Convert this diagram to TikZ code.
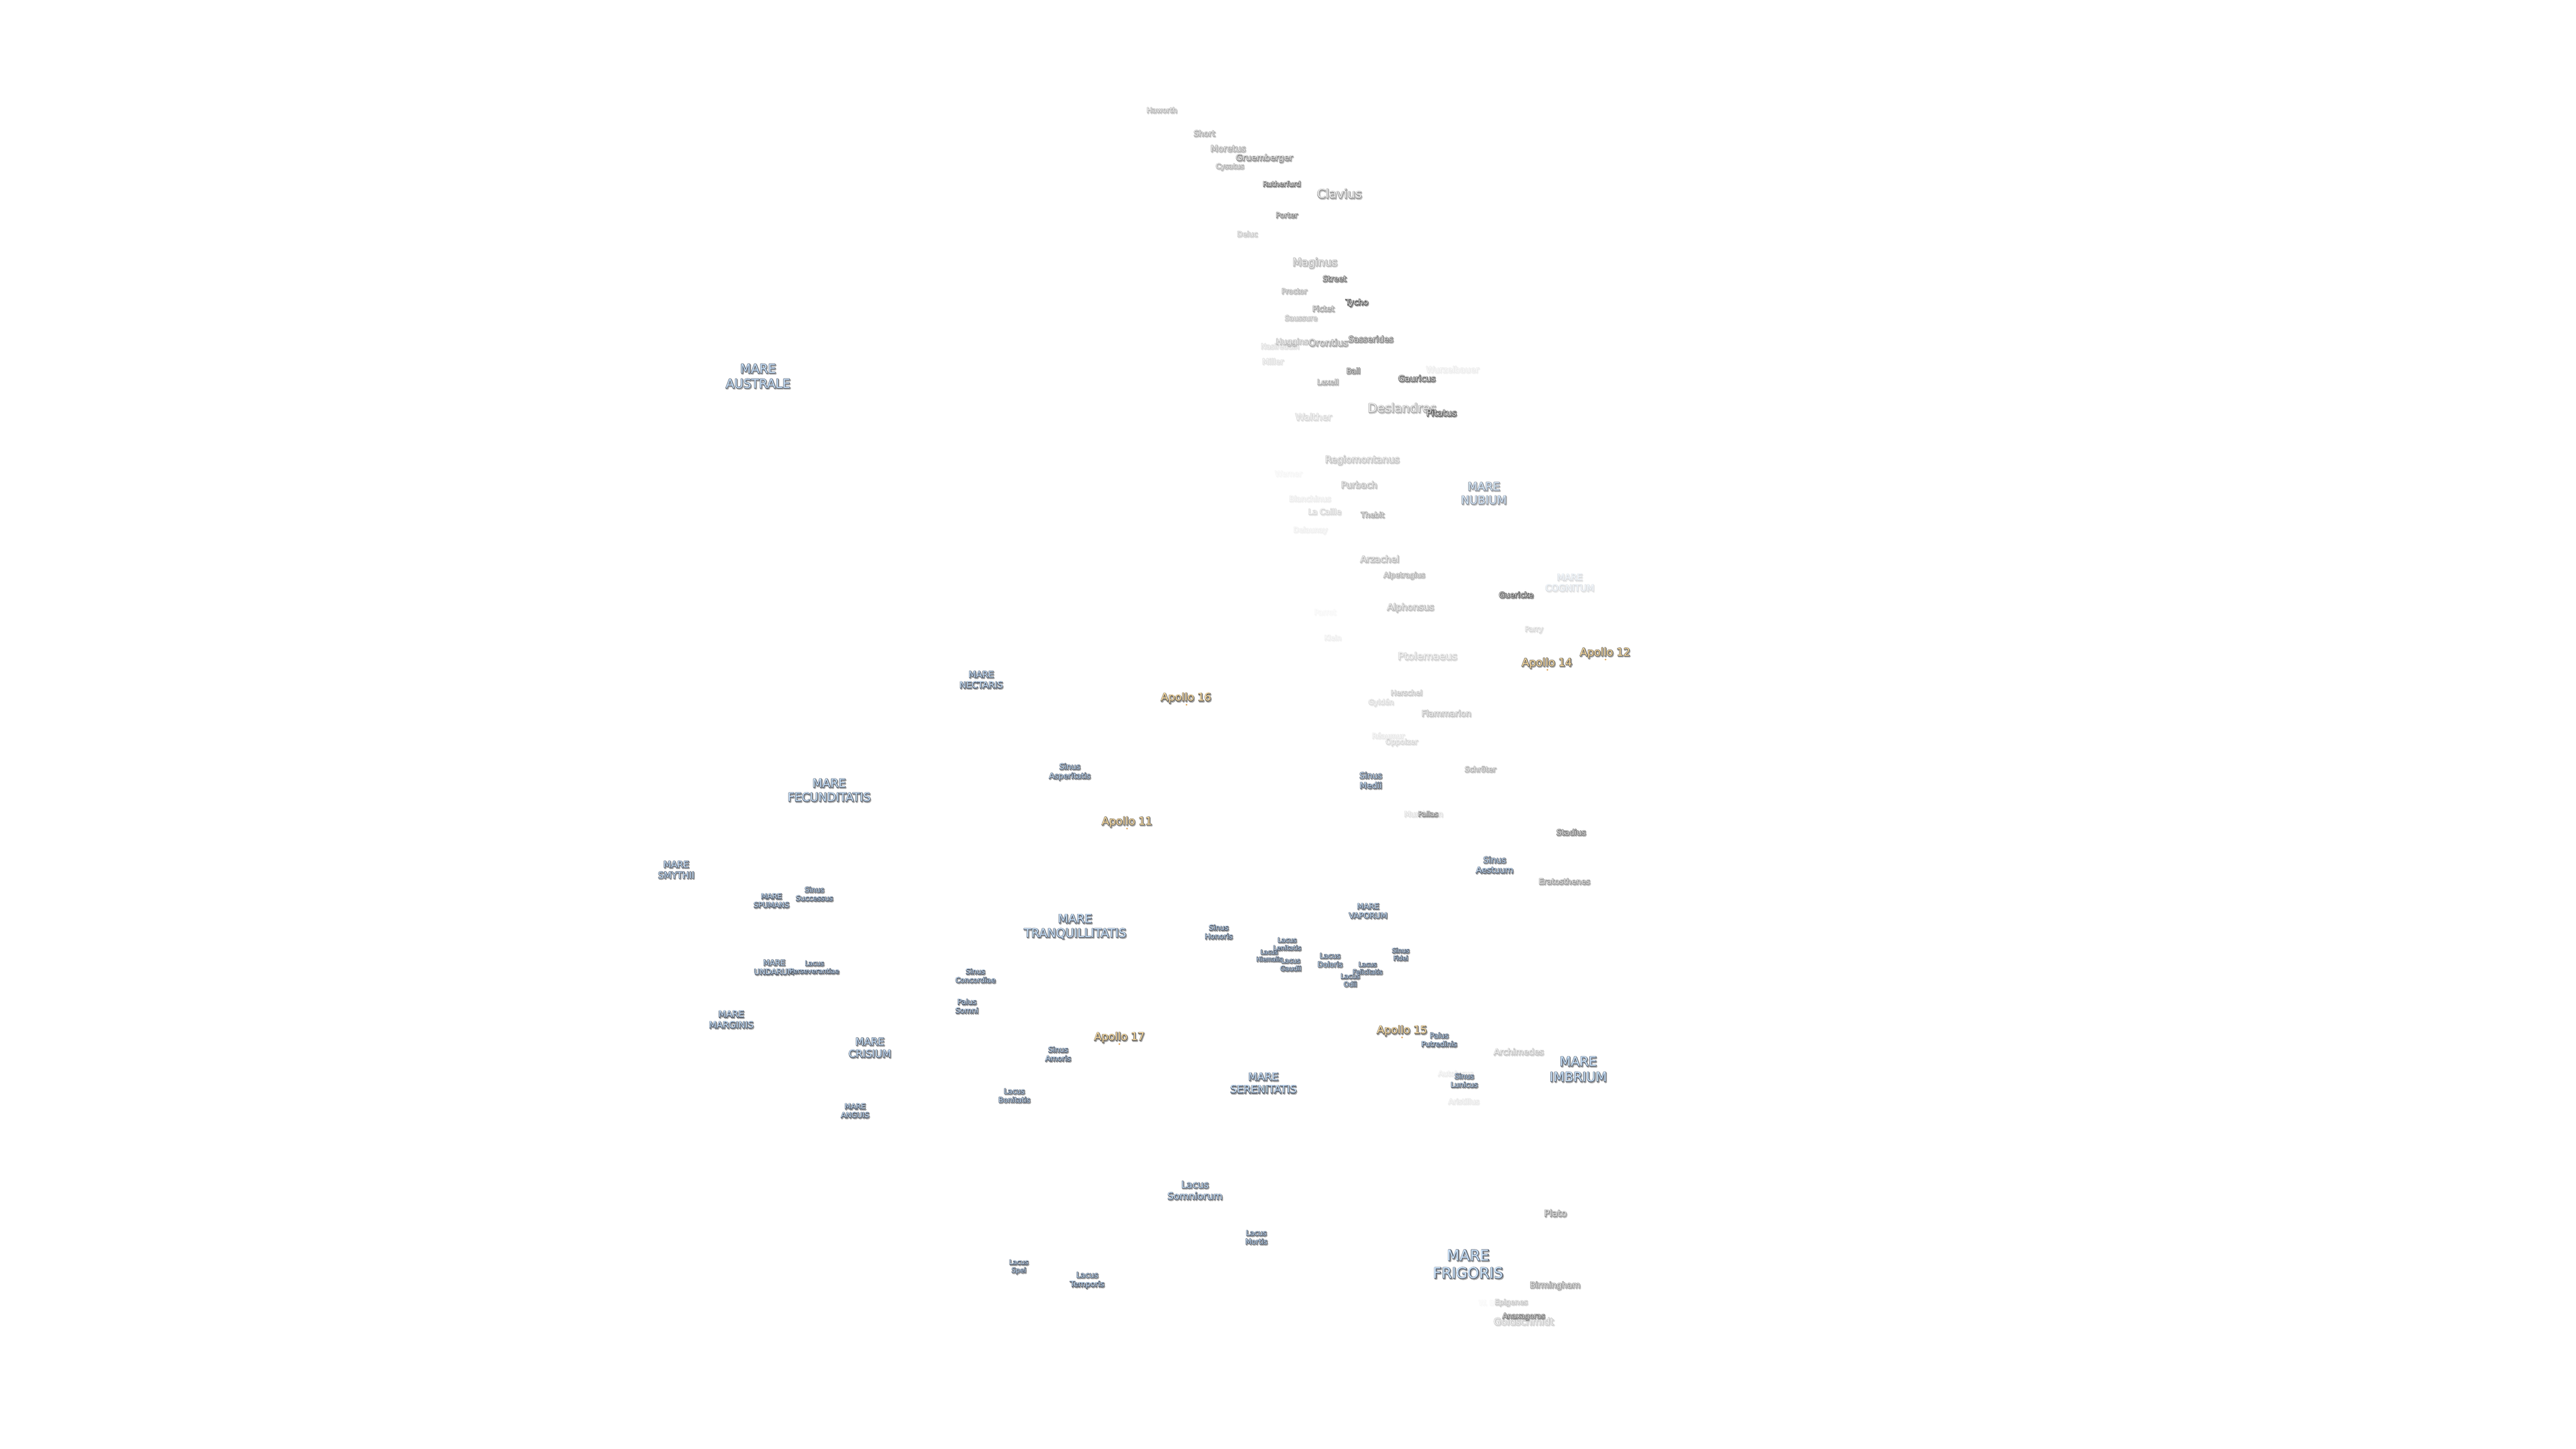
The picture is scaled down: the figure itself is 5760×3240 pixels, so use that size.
\documentclass[tikz,border=0pt]{standalone}
\usepackage{fontspec}
\setmainfont{DejaVu Sans}
\definecolor{fillmare}{HTML}{C8E0F8}
\definecolor{halomare}{HTML}{525C6C}
\definecolor{fillcrater}{HTML}{DCDCDC}
\definecolor{halocrater}{HTML}{555555}
\definecolor{fillapollo}{HTML}{FBDCA2}
\definecolor{haloapollo}{HTML}{625E56}
\definecolor{softshadow}{HTML}{666666}
\definecolor{sitedot}{HTML}{DDA050}
\tikzset{
  lbl/.style={inner sep=0pt,outer sep=0pt,align=center,anchor=center},
  strokelayer/.style={execute at begin node={\special{pdf:literal direct 1 j #1 w 1 Tr}},
                      execute at end node={\special{pdf:literal direct 0 Tr}}},
  landing/.style={circle,inner sep=0pt,minimum size=4pt,fill=sitedot}
}
\newcommand\lab[7]{%
  \pgfmathsetmacro\lbh{#4*1.2}%
  \begin{scope}[transparency group,opacity=#5,every node/.append style={font=\fontsize{#4}{\lbh}\selectfont}]
    \node[lbl,strokelayer=3,text=softshadow,opacity=.6] (#1s) at (#2+1.5,#3+2) {#7};
    \node[lbl,strokelayer=2,text=halo#6] (#1h) at (#2,#3) {#7};
    \node[lbl,text=fill#6] (#1) at (#2,#3) {#7};
  \end{scope}}
\begin{document}
\begin{tikzpicture}[x=1pt,y=-1pt]
\fill[white] (0,0) rectangle (5760,3240);
\useasboundingbox (0,0) rectangle (5760,3240);
% faint craters first
\lab{werner}{2881}{1059}{16.8}{.06}{crater}{Werner}
\lab{parrot}{2963}{1369}{16.4}{.05}{crater}{Parrot}
\lab{klein}{2980}{1426}{15.4}{.1}{crater}{Klein}
\lab{delaunay}{2930}{1186}{16}{.1}{crater}{Delaunay}
\lab{blanchinus}{2929}{1115}{17.1}{.12}{crater}{Blanchinus}
\lab{wurzelbauer}{3248}{826}{18.7}{.12}{crater}{Wurzelbauer}
\lab{nasireddin}{2862}{774}{16}{.2}{crater}{Nasireddin}
\lab{miller}{2846}{808}{17.5}{.2}{crater}{Miller}
\lab{walther}{2937}{932}{21}{.25}{crater}{Walther}
\lab{lacaille}{2962}{1144}{17.4}{.25}{crater}{La Caille}
\lab{cognitum}{3510}{1303}{19.9}{.22}{mare}{MARE\\COGNITUM}
\lab{parry}{3430}{1408}{15.7}{.25}{crater}{Parry}
\lab{reaumur}{3104}{1645}{16}{.15}{crater}{Réaumur}
\lab{oppolzer}{3134}{1660}{16}{.25}{crater}{Oppolzer}
\lab{gylden}{3088}{1571}{16}{.22}{crater}{Gyldén}
\lab{herschel}{3145}{1549}{16}{.35}{crater}{Herschel}
\lab{ptolemaeus}{3192}{1467}{22.6}{.3}{crater}{Ptolemaeus}
\lab{murchison}{3183}{1820}{17}{.2}{crater}{Murchison}
\lab{autolycus}{3255}{2402}{16}{.12}{crater}{Autolycus}
\lab{aristillus}{3273}{2463}{16.1}{.15}{crater}{Aristillus}
\lab{archimedes}{3396}{2352}{18.9}{.38}{crater}{Archimedes}
\lab{goldschmidt}{3407}{2955}{21.4}{.35}{crater}{Goldschmidt}
\lab{wbond}{3339}{2913}{16}{.04}{crater}{W. Bond}
\lab{epigenes}{3379}{2913}{16.1}{.35}{crater}{Epigenes}
% southern craters
\lab{haworth}{2598}{246}{16}{.45}{crater}{Haworth}
\lab{short}{2693}{298}{17.8}{.55}{crater}{Short}
\lab{moretus}{2746}{332}{19.5}{.55}{crater}{Moretus}
\lab{cysatus}{2750}{373}{15.9}{.5}{crater}{Cysatus}
\lab{gruemberger}{2827}{354}{18.9}{.7}{crater}{Gruemberger}
\lab{rutherfurd}{2866}{411}{15.8}{.85}{crater}{Rutherfurd}
\lab{clavius}{2995}{433}{27.8}{.65}{crater}{Clavius}
\lab{porter}{2877}{481}{16.2}{.75}{crater}{Porter}
\lab{deluc}{2789}{523}{16.1}{.35}{crater}{Deluc}
\lab{maginus}{2940}{588}{24}{.5}{crater}{Maginus}
\lab{street}{2984}{623}{17.4}{.9}{crater}{Street}
\lab{proctor}{2894}{651}{16}{.5}{crater}{Proctor}
\lab{tycho}{3034}{677}{17.8}{1}{crater}{Tycho}
\lab{pictet}{2959}{690}{17.4}{.6}{crater}{Pictet}
\lab{saussure}{2909}{711}{15.9}{.4}{crater}{Saussure}
\lab{huggins}{2889}{765}{17.6}{.4}{crater}{Huggins}
\lab{orontius}{2970}{766}{20.8}{.6}{crater}{Orontius}
\lab{sasserides}{3065}{758}{18.7}{.8}{crater}{Sasserides}
\lab{ball}{3026}{829}{16.7}{.8}{crater}{Ball}
\lab{gauricus}{3168}{846}{18.8}{.95}{crater}{Gauricus}
\lab{lexell}{2969}{854}{16.7}{.55}{crater}{Lexell}
\lab{deslandres}{3135}{912}{27.4}{.55}{crater}{Deslandres}
\lab{pitatus}{3223}{923}{19.8}{1}{crater}{Pitatus}
\lab{regiomontanus}{3046}{1029}{21.3}{.4}{crater}{Regiomontanus}
\lab{purbach}{3039}{1084}{19.8}{.45}{crater}{Purbach}
\lab{thebit}{3069}{1151}{16.5}{.55}{crater}{Thebit}
\lab{arzachel}{3085}{1250}{20.1}{.45}{crater}{Arzachel}
\lab{alpetragius}{3140}{1287}{16.2}{.5}{crater}{Alpetragius}
\lab{guericke}{3390}{1330}{17.4}{1}{crater}{Guericke}
\lab{alphonsus}{3154}{1359}{20.3}{.45}{crater}{Alphonsus}
\lab{flammarion}{3234}{1595}{18.6}{.4}{crater}{Flammarion}
\lab{schroter}{3310}{1720}{16.4}{.5}{crater}{Schröter}
\lab{pallas}{3193}{1820}{15.6}{.65}{crater}{Pallas}
\lab{stadius}{3513}{1861}{17.7}{.85}{crater}{Stadius}
\lab{eratosthenes}{3498}{1971}{17.4}{.65}{crater}{Eratosthenes}
\lab{plato}{3478}{2713}{20.2}{.7}{crater}{Plato}
\lab{birmingham}{3477}{2875}{18.5}{.65}{crater}{Birmingham}
\lab{anaxagoras}{3407}{2944}{16}{.85}{crater}{Anaxagoras}
% maria, lakes, bays
\lab{nubium}{3318}{1103}{25.2}{.75}{mare}{MARE\\NUBIUM}
\lab{medii}{3065}{1745}{18.6}{1}{mare}{Sinus\\Medii}
\lab{aestuum}{3342}{1934}{18.8}{1}{mare}{Sinus\\Aestuum}
\lab{vaporum}{3059}{2037}{17.2}{1}{mare}{MARE\\VAPORUM}
\lab{honoris}{2725}{2084}{16.2}{1}{mare}{Sinus\\Honoris}
\lab{lenitatis}{2878}{2111}{14.6}{1}{mare}{Lacus\\Lenitatis}
\lab{hiemalis}{2838}{2137}{13.3}{1}{mare}{Lacus\\Hiemalis}
\lab{gaudii}{2886}{2157}{14.7}{1}{mare}{Lacus\\Gaudii}
\lab{doloris}{2974}{2147}{16}{1}{mare}{Lacus\\Doloris}
\lab{fidei}{3132}{2134}{14.2}{1}{mare}{Sinus\\Fidei}
\lab{felicitatis}{3058}{2165}{14}{1}{mare}{Lacus\\Felicitatis}
\lab{odii}{3019}{2192}{14.9}{1}{mare}{Lacus\\Odii}
\lab{putredinis}{3218}{2325}{16}{1}{mare}{Palus\\Putredinis}
\lab{imbrium}{3529}{2391}{28.9}{1}{mare}{MARE\\IMBRIUM}
\lab{serenitatis}{2825}{2422}{23.5}{1}{mare}{MARE\\SERENITATIS}
\lab{lunicus}{3274}{2416}{15.9}{1}{mare}{Sinus\\Lunicus}
\lab{smythii}{1512}{1945}{20}{1}{mare}{MARE\\SMYTHII}
\lab{spumans}{1725}{2014}{16.2}{1}{mare}{MARE\\SPUMANS}
\lab{successus}{1821}{1999}{16}{1}{mare}{Sinus\\Successus}
\lab{undarum}{1731}{2163}{17.2}{1}{mare}{MARE\\UNDARUM}
\lab{perseverantiae}{1821}{2163}{14.7}{1}{mare}{Lacus\\Perseverantiae}
\lab{concordiae}{2181}{2182}{15.9}{1}{mare}{Sinus\\Concordiae}
\lab{somni}{2162}{2250}{16.3}{1}{mare}{Palus\\Somni}
\lab{marginis}{1635}{2280}{20}{1}{mare}{MARE\\MARGINIS}
\lab{crisium}{1945}{2343}{22.6}{1}{mare}{MARE\\CRISIUM}
\lab{anguis}{1912}{2484}{16.3}{1}{mare}{MARE\\ANGUIS}
\lab{tranquillitatis}{2404}{2072}{26.6}{1}{mare}{MARE\\TRANQUILLITATIS}
\lab{amoris}{2366}{2357}{16.4}{1}{mare}{Sinus\\Amoris}
\lab{bonitatis}{2268}{2450}{16.1}{1}{mare}{Lacus\\Bonitatis}
\lab{australe}{1695}{841}{27.8}{1}{mare}{MARE\\AUSTRALE}
\lab{nectaris}{2194}{1520}{19.7}{1}{mare}{MARE\\NECTARIS}
\lab{asperitatis}{2392}{1726}{17.3}{1}{mare}{Sinus\\Asperitatis}
\lab{fecunditatis}{1854}{1767}{26}{1}{mare}{MARE\\FECUNDITATIS}
\lab{somniorum}{2672}{2662}{21.3}{1}{mare}{Lacus\\Somniorum}
\lab{mortis}{2809}{2767}{16}{1}{mare}{Lacus\\Mortis}
\lab{spei}{2278}{2833}{14.9}{1}{mare}{Lacus\\Spei}
\lab{temporis}{2431}{2863}{17}{1}{mare}{Lacus\\Temporis}
\lab{frigoris}{3283}{2827}{33}{1}{mare}{MARE\\FRIGORIS}
% landing sites
\lab{apollo12}{3589}{1460}{24}{1}{apollo}{Apollo 12}
\lab{apollo14}{3459}{1483}{24}{1}{apollo}{Apollo 14}
\lab{apollo15}{3135}{2305}{24}{1}{apollo}{Apollo 15}
\lab{apollo16}{2652}{1561}{24}{1}{apollo}{Apollo 16}
\lab{apollo17}{2503}{2320}{24}{1}{apollo}{Apollo 17}
\lab{apollo11}{2520}{1838}{24}{1}{apollo}{Apollo 11}
\node[landing] (site12) at (3590,1475) {};
\node[landing] (site14) at (3460,1498) {};
\node[landing] (site15) at (3135,2320) {};
\node[landing] (site16) at (2653,1576) {};
\node[landing] (site17) at (2503,2335) {};
\node[landing] (site11) at (2520,1853) {};
\end{tikzpicture}
\end{document}
